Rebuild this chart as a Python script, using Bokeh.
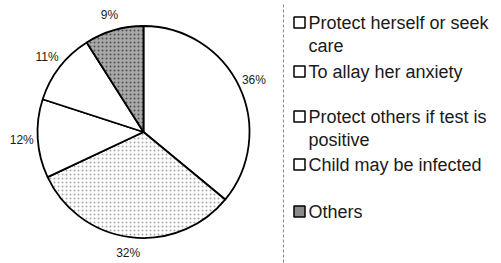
import math
from bokeh.plotting import figure
from bokeh.models import Range1d, ColumnDataSource
from bokeh.core.properties import value
from bokeh.embed import file_html
from bokeh.resources import INLINE

# ---- data ----
categories = ["Protect herself or seek care", "To allay her anxiety",
              "Protect others if test is positive", "Child may be infected", "Others"]
percents = [36, 32, 12, 11, 9]
pct_labels = ["36%", "32%", "12%", "11%", "9%"]
legend_lines = [["Protect herself or seek", "care"], ["To allay her anxiety"],
                ["Protect others if test is", "positive"], ["Child may be infected"], ["Others"]]

# ---- styles ----
fills = ["white", "white", "white", "white", "#a8a8a8"]
hatches = [" ", "dot", " ", " ", "dot"]
hatch_colors = ["#b0b0b0", "#a8a8a8", "#b0b0b0", "#b0b0b0", "#505050"]
marker_fills = ["white", "white", "white", "white", "#8a8a8a"]

FONT = "Liberation Sans"
W, H = 501, 263
SCREEN_H = 263
cx, cy = 143, SCREEN_H - 131.5
R = 106
LABEL_R = 122

p = figure(width=W, height=H, output_backend="svg", toolbar_location=None,
           x_range=Range1d(0, W), y_range=Range1d(SCREEN_H - H, SCREEN_H),
           x_axis_location=None, y_axis_location=None, min_border=0)
p.grid.visible = False
p.outline_line_color = None
p.background_fill_color = "white"
p.border_fill_color = "white"

total = sum(percents)
starts, ends, lx, ly = [], [], [], []
cum = 0
for v in percents:
    a0 = math.pi / 2 - 2 * math.pi * cum / total
    cum += v
    a1 = math.pi / 2 - 2 * math.pi * cum / total
    starts.append(a0)
    ends.append(a1)
    mid = (a0 + a1) / 2
    lx.append(cx + LABEL_R * math.cos(mid))
    ly.append(cy + LABEL_R * math.sin(mid))

src = ColumnDataSource(dict(start=starts, end=ends, fill=fills, hatch=hatches,
                            hcol=hatch_colors, lx=lx, ly=ly, lab=pct_labels))
p.wedge(x=cx, y=cy, radius=R, start_angle="start", end_angle="end", direction="clock",
        source=src, fill_color="fill", line_color="black", line_width=1.8,
        hatch_pattern="hatch", hatch_color="hcol", hatch_scale=4, hatch_weight=1)

p.text(x="lx", y="ly", text="lab", source=src, text_font=value(FONT),
       text_font_size="12px", text_align="center", text_baseline="middle", text_color="#1a1a1a")

# legend frame line (dashed)
p.segment(x0=[283], y0=[SCREEN_H - 4], x1=[283], y1=[0], line_color="#888888",
          line_width=1, line_dash="3 2")

row_y = [22, 71, 116, 164, 211]
mx, my, tx, ty, tt = [], [], [], [], []
for i, lines in enumerate(legend_lines):
    mx.append(299)
    my.append(SCREEN_H - row_y[i])
    for j, t in enumerate(lines):
        tx.append(308)
        ty.append(SCREEN_H - (row_y[i] + 23 * j))
        tt.append(t)

p.scatter(x=mx, y=my, marker="square", size=11, fill_color=marker_fills,
          line_color="black", line_width=1.5)
p.text(x=tx, y=ty, text=tt, text_font=value(FONT), text_font_size="18px",
       text_align="left", text_baseline="middle", text_color="#1a1a1a")

open("out.html", "w").write(file_html(p, INLINE))
